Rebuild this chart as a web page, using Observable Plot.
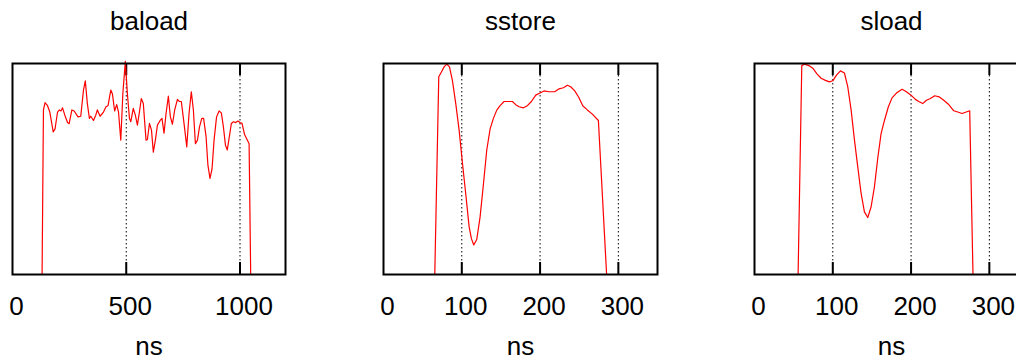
<!DOCTYPE html>
<html>
<head>
<meta charset="utf-8">
<script src="https://cdn.jsdelivr.net/npm/d3@7"></script>
<script src="https://cdn.jsdelivr.net/npm/@observablehq/plot@0.6"></script>
<style>
  html, body { margin: 0; padding: 0; background: #fff; }
  body { width: 1016px; height: 362px; overflow: hidden; position: relative; }
  .panel { position: absolute; top: 0; }
  .panel svg { max-width: none; overflow: visible; }
</style>
</head>
<body>
<div id="p1" class="panel"></div>
<div id="p2" class="panel"></div>
<div id="p3" class="panel"></div>
<script>
// ---- data ----
const titles = ["baload", "sstore", "sload"];
const xLabel = "ns";

const baloadTicks = [0, 500, 1000];
const sstoreTicks = [0, 100, 200, 300];
const sloadTicks = [0, 100, 200, 300];

const baloadX = [130,136,143,154,164,179,187,198,206,213,220,230,242,249,261,271,288,300,312,320,329,338,344,356,366,373,385,400,411,420,432,439,449,458,466,476,485,496,505,514,520,531,540,549,558,566,575,587,593,602,611,619,628,637,649,657,666,675,685,694,703,713,725,733,742,754,766,776,786,795,804,813,822,832,840,851,859,868,877,886,897,908,918,927,936,944,953,962,971,981,991,1000,1009,1020,1032,1040,1047];
const baloadY = [0,0.78,0.815,0.80,0.77,0.676,0.69,0.77,0.78,0.775,0.79,0.755,0.72,0.715,0.78,0.775,0.747,0.75,0.874,0.918,0.81,0.74,0.75,0.73,0.755,0.78,0.75,0.77,0.795,0.80,0.874,0.857,0.775,0.805,0.77,0.637,0.857,1.01,0.857,0.74,0.724,0.787,0.755,0.708,0.77,0.834,0.81,0.637,0.64,0.716,0.684,0.58,0.637,0.708,0.73,0.74,0.67,0.763,0.845,0.747,0.712,0.78,0.83,0.82,0.82,0.716,0.605,0.763,0.866,0.78,0.62,0.637,0.70,0.74,0.74,0.652,0.518,0.455,0.50,0.637,0.747,0.775,0.766,0.70,0.613,0.59,0.652,0.716,0.724,0.72,0.727,0.72,0.716,0.663,0.637,0.62,0];

const sstoreX = [65.5,70.6,74,77.4,80.9,84.3,88,92.3,96.6,100.9,105,109.4,112.3,115.3,119.1,123.4,127.7,131.9,136.2,140.4,144.7,148.9,154,159,164.7,168.9,173.2,178.7,183.8,188.9,194.5,200,205,211.5,218.7,224.3,229.8,234.9,239.1,244.3,249.4,254.5,260.4,266.8,274.5,285];
const sstoreY = [0,0.937,0.96,0.984,0.997,0.984,0.92,0.81,0.684,0.526,0.384,0.226,0.17,0.14,0.166,0.273,0.43,0.59,0.69,0.74,0.779,0.80,0.82,0.82,0.82,0.805,0.795,0.79,0.80,0.82,0.85,0.86,0.87,0.866,0.866,0.88,0.885,0.897,0.89,0.87,0.84,0.80,0.78,0.76,0.73,0];

const sloadX = [55.7,60.4,63.8,69.4,74.9,80,85.1,90.6,95.7,100,104.7,109.8,114.9,119.1,123.4,127.7,131.9,136.2,140.4,144.7,148.9,153.2,157.4,161.7,166,171,175.7,181.3,188.5,194,200,205.5,209.8,214.9,219.6,224.7,230.2,235.7,241.7,247.7,254.5,259.6,265.1,274.9,279.1];
const sloadY = [0,0.99,0.997,0.99,0.976,0.95,0.93,0.92,0.913,0.918,0.945,0.965,0.955,0.89,0.78,0.637,0.51,0.384,0.297,0.27,0.32,0.415,0.55,0.668,0.73,0.795,0.837,0.86,0.878,0.866,0.85,0.83,0.82,0.81,0.826,0.834,0.847,0.842,0.826,0.807,0.776,0.77,0.763,0.776,0];

// ---- drawing ----
const FONT = "'Liberation Sans', Arial, Helvetica, sans-serif";

function panel(el, left, frameW, xDomain, ticks, xs, ys, title) {
  const data = xs.map((x, i) => ({x, y: ys[i]}));
  const inner = ticks.filter(t => t !== 0);
  const mL = 20, mR = 20;
  const txt = {fontSize: 26, fill: "black", lineAnchor: "middle"};
  const chart = Plot.plot({
    width: mL + frameW + mR,
    height: 362,
    marginLeft: mL,
    marginRight: mR,
    marginTop: 63,
    marginBottom: 88,
    style: {fontFamily: FONT, fontSize: "26px", background: "transparent", overflow: "visible"},
    x: {domain: xDomain, axis: null},
    y: {domain: [0, 1], axis: null},
    marks: [
      Plot.ruleX(inner, {x: d => d, stroke: "black", strokeWidth: 1, strokeDasharray: "1.5,2.5"}),
      Plot.tickX(inner, {x: d => d, stroke: "black", strokeWidth: 2, insetTop: 199}),
      Plot.tickX(inner, {x: d => d, stroke: "black", strokeWidth: 2, insetBottom: 199}),
      Plot.line(data, {x: "x", y: "y", stroke: "#ff0000", strokeWidth: 1.2}),
      Plot.frame({stroke: "black", strokeWidth: 2}),
      Plot.text(ticks, {x: d => d, text: d => String(d), frameAnchor: "bottom", dy: 32, dx: 4, ...txt}),
      Plot.text([xLabel], {text: d => d, frameAnchor: "bottom", dy: 72, ...txt}),
      Plot.text([title], {text: d => d, frameAnchor: "top", dy: -42, ...txt})
    ]
  });
  el.style.left = (left - mL) + "px";
  el.style.width = (mL + frameW + mR) + "px";
  el.appendChild(chart);
}

panel(document.getElementById("p1"), 12, 273, [0, 1200], baloadTicks, baloadX, baloadY, titles[0]);
panel(document.getElementById("p2"), 383, 274, [0, 350], sstoreTicks, sstoreX, sstoreY, titles[1]);
panel(document.getElementById("p3"), 754, 274, [0, 350], sloadTicks, sloadX, sloadY, titles[2]);
</script>
</body>
</html>
